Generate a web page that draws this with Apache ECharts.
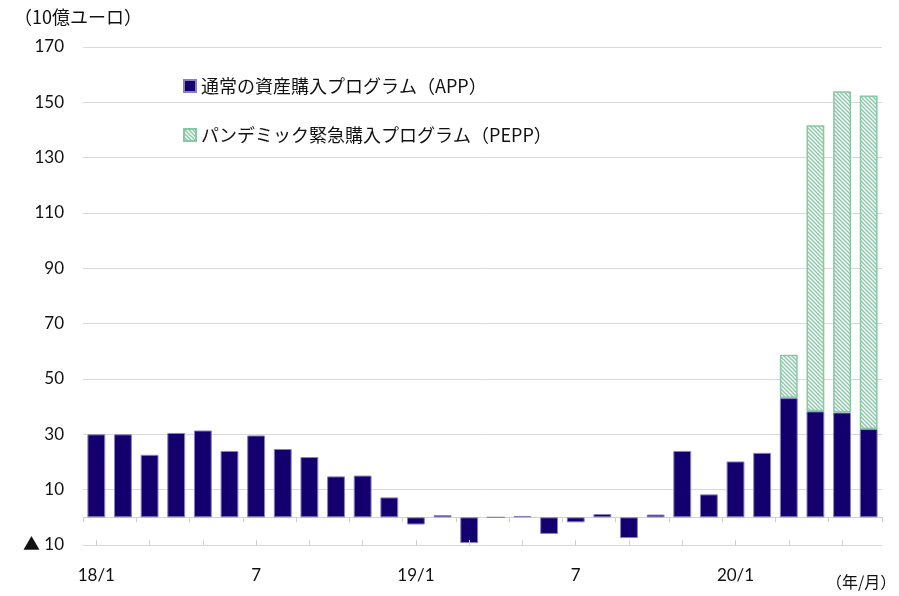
<!DOCTYPE html>
<html>
<head>
<meta charset="utf-8">
<script src="https://cdn.jsdelivr.net/npm/echarts@6/dist/echarts.min.js"></script>
<style>
  html, body { margin: 0; padding: 0; background: #fff; }
  #main { width: 899px; height: 596px; }
</style>
</head>
<body>
<div id="main"></div>
<script>
// 月次（18/1〜20/6）
var months = [
  '18/1', '2', '3', '4', '5', '6', '7', '8', '9', '10', '11', '12',
  '19/1', '2', '3', '4', '5', '6', '7', '8', '9', '10', '11', '12',
  '20/1', '2', '3', '4', '5', '6'
];
// 通常の資産購入プログラム（APP）
var appValues = [
  30.0, 30.0, 22.6, 30.5, 31.4, 24.0, 29.6, 24.7, 21.8, 14.8, 15.1, 7.2,
  -2.6, 0.8, -9.3, 0, 0.5, -6.0, -1.8, 1.2, -7.5, 1.0, 24.0, 8.3,
  20.2, 23.3, 43.1, 38.3, 37.9, 31.9
];
// パンデミック緊急購入プログラム（PEPP）
var peppValues = [
  null, null, null, null, null, null, null, null, null, null, null, null,
  null, null, null, null, null, null, null, null, null, null, null, null,
  null, null, 15.7, 103.4, 116.1, 120.6
];
var seriesNames = ['通常の資産購入プログラム（APP）', 'パンデミック緊急購入プログラム（PEPP）'];

var numFont = "Lato, 'Noto Sans CJK JP', sans-serif";
var jpFont = "'Noto Sans CJK JP', sans-serif";

// 斜線パターン
function makeHatch() {
  var c = document.createElement('canvas');
  c.width = 4; c.height = 4;
  var ctx = c.getContext('2d');
  ctx.fillStyle = '#ffffff';
  ctx.fillRect(0, 0, 4, 4);
  ctx.strokeStyle = '#86c9a4';
  ctx.lineWidth = 1.4;
  ctx.beginPath();
  ctx.moveTo(-1, -1); ctx.lineTo(5, 5);
  ctx.moveTo(-1, 3); ctx.lineTo(1, 5);
  ctx.moveTo(3, -1); ctx.lineTo(5, 1);
  ctx.stroke();
  return c;
}

var myChart = echarts.init(document.getElementById('main'));
myChart.setOption({
  animation: false,
  grid: { left: 83, right: 17, top: 47, bottom: 51 },
  legend: {
    orient: 'vertical',
    left: 178,
    top: 72,
    itemWidth: 12,
    itemHeight: 12,
    itemGap: 31,
    icon: 'rect',
    textStyle: { fontFamily: jpFont, fontSize: 18, color: '#111' },
    data: seriesNames
  },
  graphic: [
    { type: 'text', left: 14, top: 8,
      style: { text: '（10億ユーロ）', fontFamily: jpFont, fontSize: 18, fill: '#111' } },
    { type: 'text', left: 826, top: 574,
      style: { text: '（年/月）', fontFamily: jpFont, fontSize: 16, fill: '#111' } }
  ],
  xAxis: [
    {
      type: 'category',
      data: months,
      axisLine: { onZero: true, lineStyle: { color: '#d0d0d0', width: 1 } },
      axisTick: { show: true, length: 5, lineStyle: { color: '#d0d0d0' } },
      axisLabel: { show: false },
      splitLine: { show: false }
    },
    {
      type: 'category',
      data: months,
      position: 'bottom',
      z: 5,
      axisLine: { show: false, onZero: true },
      axisTick: { show: true, inside: true, alignWithLabel: true, length: 5, lineStyle: { color: '#d0d0d0' } },
      axisLabel: { show: false }
    },
    {
      type: 'category',
      data: months,
      position: 'bottom',
      axisLine: { show: false, onZero: false },
      axisTick: { show: false },
      axisLabel: { interval: 5, margin: 22, fontFamily: numFont, fontSize: 17, color: '#111' }
    }
  ],
  yAxis: {
    type: 'value',
    min: -10,
    max: 170,
    interval: 20,
    axisLine: { show: false },
    axisTick: { show: false },
    splitLine: { lineStyle: { color: '#d9d9d9', width: 1 } },
    axisLabel: {
      margin: 19,
      fontFamily: numFont,
      fontSize: 17,
      color: '#111',
      formatter: function (v) { return v < 0 ? '▲ ' + (-v) : String(v); }
    }
  },
  series: [
    {
      name: seriesNames[0],
      type: 'bar',
      stack: 'total',
      xAxisIndex: 0,
      barCategoryGap: '33%',
      data: appValues,
      itemStyle: { color: '#13006e', borderColor: '#8a80c0', borderWidth: 1 }
    },
    {
      name: seriesNames[1],
      type: 'bar',
      stack: 'total',
      xAxisIndex: 0,
      barCategoryGap: '33%',
      data: peppValues,
      itemStyle: { color: { image: makeHatch(), repeat: 'repeat' }, borderColor: '#86c9a4', borderWidth: 1.5 }
    }
  ]
});
</script>
</body>
</html>
